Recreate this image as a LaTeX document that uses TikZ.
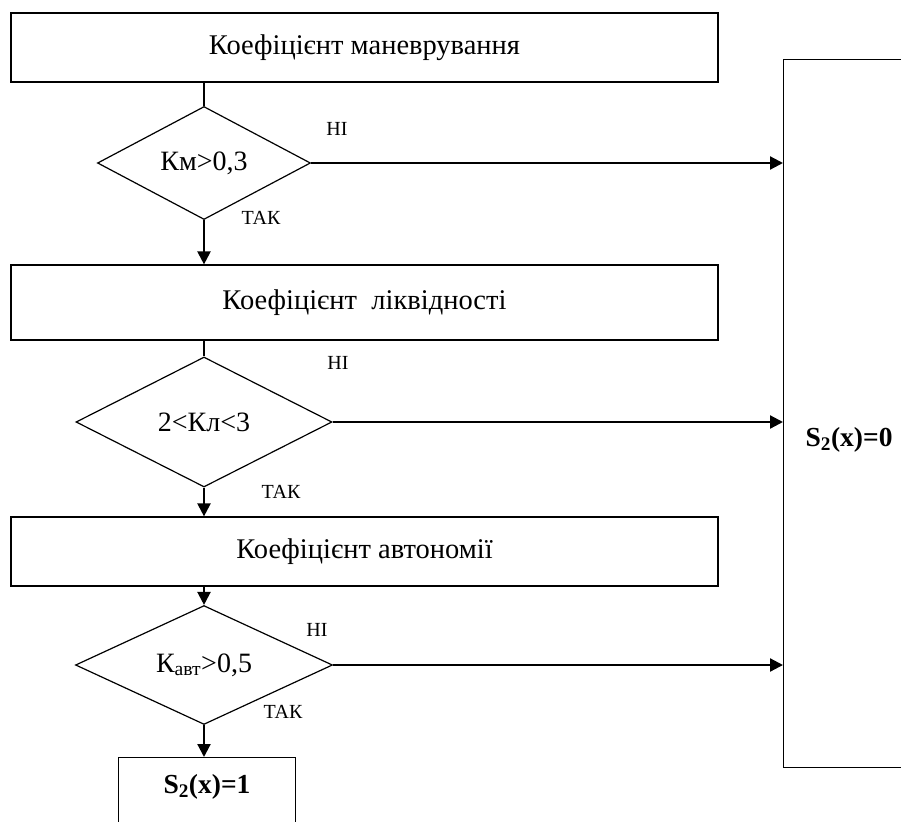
\documentclass[tikz,border=0pt]{standalone}
\usepackage{fontspec}
\setmainfont{Liberation Serif}
\usetikzlibrary{shapes.geometric, arrows.meta, positioning, calc}
\tikzset{
  blk/.style={rectangle, draw, line width=1.2pt, minimum width=707pt,
    inner sep=0pt, font=\fontsize{28.5}{32}\selectfont},
  cond/.style={diamond, draw, line width=1.2pt, inner sep=0pt,
    font=\fontsize{28}{32}\selectfont},
  res/.style={rectangle, draw, line width=1.2pt, inner xsep=0pt, inner ysep=0pt,
    font=\fontsize{27.5}{32}\selectfont\bfseries},
  lbl/.style={inner sep=0pt, font=\fontsize{20}{24}\selectfont},
  arr/.style={-{Triangle[length=13pt,width=13pt]}, line width=2.2pt},
  ln/.style={line width=1.2pt},
}

\begin{document}
\begin{tikzpicture}[x=1pt,y=-1pt]
  \clip (0,0) rectangle (901,821);
  \useasboundingbox (0,0) rectangle (901,821);

  % blocks on the left
  \node[blk, minimum height=69pt] (man) at (364.5,47.5) {Коефіцієнт маневрування};
  \node[cond, minimum width=213pt, minimum height=113pt] (km) at (204,163) {Км>0,3};
  \node[blk, minimum height=75pt] (liq) at (364.5,302.5) {Коефіцієнт\ \ ліквідності};
  \node[cond, minimum width=256pt, minimum height=130pt] (kl) at (204,422) {2<Кл<3};
  \node[blk, minimum height=69pt] (aut) at (364.5,551.5) {Коефіцієнт автономії};
  \node[cond, minimum width=257pt, minimum height=114pt] (ka) at (204,665) {К\textsubscript{авт}>0,5};
  \node[res, minimum width=177pt, text height=36pt, text depth=40pt,
    anchor=north] (one) at (207,757) {S\textsubscript{2}(x)=1};

  % result on the right
  \node[res, minimum width=131pt, text height=387pt, text depth=321pt,
    anchor=north west] (zero) at (783,59) {S\textsubscript{2}(x)=0};

  % yes / no labels
  \node[lbl] (no1) at (337,129) {НІ};
  \node[lbl] (yes1) at (261,218) {ТАК};
  \node[lbl] (no2) at (338,363) {НІ};
  \node[lbl] (yes2) at (281,492) {ТАК};
  \node[lbl] (no3) at (317,630) {НІ};
  \node[lbl] (yes3) at (283,712) {ТАК};

  % connectors
  \draw[ln] (man.south -| km.north) -- (km.north);
  \draw[arr] (km.south) -- (km.south |- liq.north);
  \draw[ln] (liq.south -| kl.north) -- (kl.north);
  \draw[arr] (kl.south) -- (kl.south |- aut.north);
  \draw[arr] (aut.south -| ka.north) -- (ka.north);
  \draw[arr] (ka.south) -- (ka.south |- one.north);

  \draw[arr] (km.east) -- (km.east -| zero.west);
  \draw[arr] (kl.east) -- (kl.east -| zero.west);
  \draw[arr] (ka.east) -- (ka.east -| zero.west);
\end{tikzpicture}
\end{document}
